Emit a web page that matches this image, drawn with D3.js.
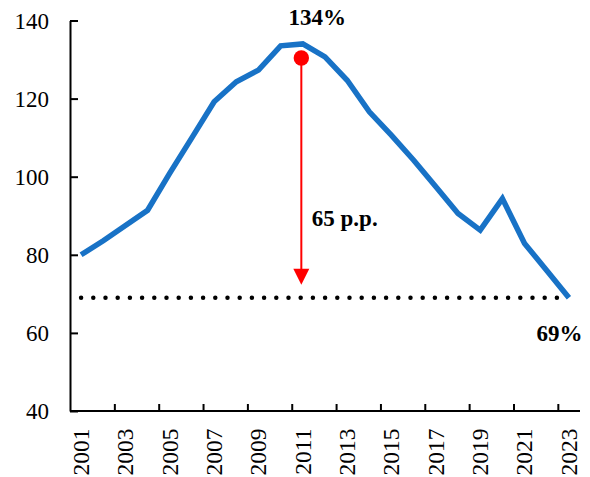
<!DOCTYPE html>
<html>
<head>
<meta charset="utf-8">
<script src="https://cdn.jsdelivr.net/npm/d3@7"></script>
<style>
  html, body { margin: 0; padding: 0; background: #fff; }
  svg { display: block; }
  text { font-family: "Liberation Serif", "Times New Roman", serif; fill: #000; }
</style>
</head>
<body>
<svg id="chart" width="590" height="477"></svg>
<script>
// Debt ratio, per cent, 2001–2023
const years = d3.range(2001, 2024);
const values = [80, 83.6, 87.5, 91.4, 100.9, 110, 119.2, 124.3, 127.3, 133.5, 134,
                130.7, 124.7, 116.6, 110.6, 104.2, 97.4, 90.6, 86.3, 94.4, 82.9, 76, 69];
const yTicks = [40, 60, 80, 100, 120, 140];
const yearLabels = years.filter(y => y % 2 === 1);

// Annotation values
const peakYear = 2011, peakValue = 134, lastYear = 2023, lastValue = 69;
const arrowFrom = 130.4, arrowTo = 72.3;
const peakLabel = "134%", lastLabel = "69%", gapLabel = "65 p.p.";

const svg = d3.select("#chart");
const plotLeft = 70, plotRight = 580, plotTop = 20.5, plotBottom = 411;

const y = d3.scaleLinear().domain([40, 140]).range([plotBottom, plotTop]);
const xi = d3.scaleLinear().domain([0, years.length]).range([plotLeft, plotRight]);
const x = yr => xi(years.indexOf(yr) + 0.5);

// Y axis
const yAxis = svg.append("g")
  .attr("transform", `translate(${plotLeft},0)`)
  .call(d3.axisLeft(y).tickValues(yTicks).tickSizeInner(-8).tickSizeOuter(0).tickPadding(21));
yAxis.select(".domain").attr("stroke", "#000").attr("stroke-width", 2);
yAxis.selectAll(".tick line").attr("stroke", "#000").attr("stroke-width", 2);
yAxis.selectAll(".tick text")
  .attr("font-size", 23)
  .attr("dy", "0.33em");

// X axis: tick marks between every second category
const tickIdx = d3.range(2, years.length, 2);
const xAxis = svg.append("g")
  .attr("transform", `translate(0,${plotBottom})`)
  .call(d3.axisBottom(xi).tickValues(tickIdx).tickSizeInner(-7).tickSizeOuter(0).tickFormat(""));
xAxis.select(".domain").attr("stroke", "#000").attr("stroke-width", 2)
  .attr("d", `M${plotLeft},0H${plotRight}`);
xAxis.selectAll(".tick line").attr("stroke", "#000").attr("stroke-width", 2);

// Year labels, rotated
svg.append("g").selectAll("text")
  .data(yearLabels)
  .join("text")
  .attr("transform", d => `translate(${x(d) + 7.9},${plotBottom + 17.5}) rotate(-90)`)
  .attr("text-anchor", "end")
  .attr("font-size", 23.5)
  .text(d => d);

// Dotted reference line at the latest value
svg.append("line")
  .attr("x1", x(2001)).attr("x2", x(lastYear))
  .attr("y1", y(lastValue)).attr("y2", y(lastValue))
  .attr("stroke", "#000").attr("stroke-width", 4.5)
  .attr("stroke-linecap", "round")
  .attr("stroke-dasharray", "0 12.2");

// Main series
const line = d3.line().x((d, i) => x(years[i])).y(d => y(d));
svg.append("path")
  .datum(values)
  .attr("d", line)
  .attr("fill", "none")
  .attr("stroke", "#1872c6")
  .attr("stroke-width", 5.5)
  .attr("stroke-linejoin", "miter");

// Red arrow marking the decline from the peak
const ax = x(peakYear) - 1.5;
svg.append("line")
  .attr("x1", ax).attr("x2", ax)
  .attr("y1", y(arrowFrom)).attr("y2", y(arrowTo) - 14)
  .attr("stroke", "#ff0000").attr("stroke-width", 2);
svg.append("path")
  .attr("d", `M${ax - 8},${y(arrowTo) - 16}L${ax + 8},${y(arrowTo) - 16}L${ax},${y(arrowTo)}Z`)
  .attr("fill", "#ff0000");
svg.append("circle")
  .attr("cx", ax).attr("cy", y(arrowFrom)).attr("r", 7.7)
  .attr("fill", "#ff0000");

// Labels
svg.append("text")
  .attr("x", x(peakYear) + 14.5).attr("y", y(peakValue) - 19)
  .attr("text-anchor", "middle").attr("font-size", 23).attr("font-weight", "bold")
  .text(peakLabel);
svg.append("text")
  .attr("x", ax + 10.5).attr("y", 225.7)
  .attr("font-size", 23).attr("font-weight", "bold")
  .text(gapLabel);
svg.append("text")
  .attr("x", x(lastYear) + 13.5).attr("y", y(lastValue) + 43.5)
  .attr("text-anchor", "end").attr("font-size", 23).attr("font-weight", "bold")
  .text(lastLabel);
</script>
</body>
</html>
